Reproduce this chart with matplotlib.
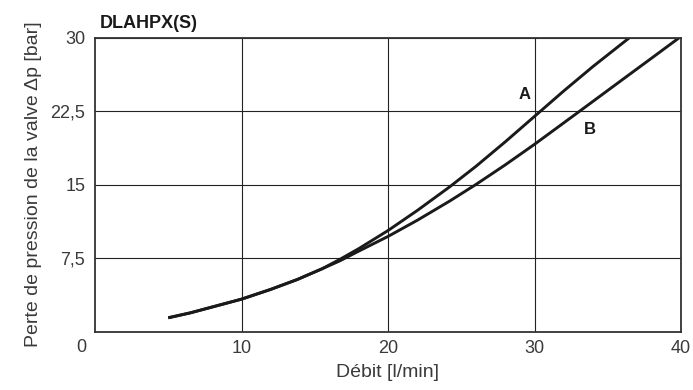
import matplotlib.pyplot as plt

plt.rcParams['font.family'] = ['Liberation Sans', 'DejaVu Sans']

# curve A
a_flow = [5.0, 6.5, 8.0, 10.0, 12.0, 13.8, 15.5, 16.7, 18.0, 20.0, 22.0, 24.2, 26.0, 28.0, 30.0, 32.0, 34.0, 36.5]
a_dp = [1.4, 1.9, 2.5, 3.3, 4.3, 5.3, 6.4, 7.35, 8.45, 10.3, 12.35, 14.75, 16.85, 19.35, 21.95, 24.55, 27.05, 30.0]

# curve B
b_flow = [5.0, 6.5, 8.0, 10.0, 12.0, 13.8, 15.5, 16.7, 18.0, 20.0, 22.0, 24.2, 26.0, 28.0, 30.0, 33.1, 36.0, 38.0, 39.9]
b_dp = [1.4, 1.9, 2.5, 3.3, 4.3, 5.3, 6.4, 7.2, 8.2, 9.7, 11.35, 13.3, 15.0, 17.0, 19.1, 22.5, 25.7, 27.9, 30.0]

xticks = [10, 20, 30, 40]
yticks = [7.5, 15, 22.5, 30]
ytick_labels = ['7,5', '15', '22,5', '30']

txt = '#3a3a3a'

fig = plt.figure(figsize=(6.93, 3.9), dpi=100)
ax = fig.add_axes([95 / 693, 1 - 331.5 / 390, 586 / 693, 294 / 390])

ax.plot(a_flow, a_dp, color='#1a1a1a', lw=2.1, solid_capstyle='butt')
ax.plot(b_flow, b_dp, color='#1a1a1a', lw=2.1, solid_capstyle='butt')

ax.set_xlim(0, 40)
ax.set_ylim(0, 30)
ax.set_xticks(xticks)
ax.set_xticklabels([str(t) for t in xticks])
ax.set_yticks(yticks)
ax.set_yticklabels(ytick_labels)
ax.tick_params(length=0, labelsize=13, colors=txt)
ax.tick_params(axis='y', pad=7)
ax.tick_params(axis='x', pad=6)
ax.grid(True, color='#222222', lw=0.8)
for s in ax.spines.values():
    s.set_color('#333333')
    s.set_linewidth(1.3)

ax.text(-0.014, -0.053, '0', transform=ax.transAxes, ha='right', va='center',
        fontsize=13, color=txt)

ax.text(29.3, 24.2, 'A', fontsize=12, fontweight='bold', ha='center', va='center', color='#1a1a1a')
ax.text(33.8, 20.6, 'B', fontsize=12, fontweight='bold', ha='center', va='center', color='#1a1a1a')

ax.set_xlabel('Débit [l/min]', fontsize=14, color=txt, labelpad=5)
ax.set_ylabel('Perte de pression de la valve Δp [bar]', fontsize=14, color=txt, labelpad=6)
ax.set_title('DLAHPX(S)', loc='left', fontsize=13, fontweight='bold', color='#1a1a1a', pad=7, x=0.008)

fig.savefig('out.png', dpi=100)
